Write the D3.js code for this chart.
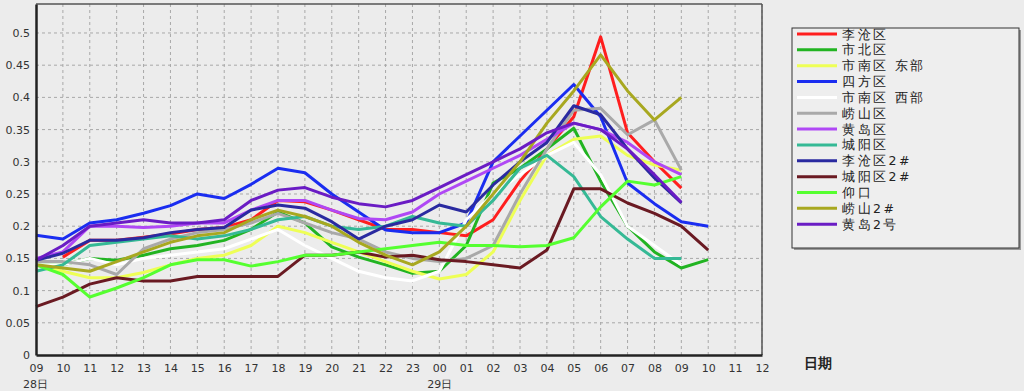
<!DOCTYPE html>
<html>
<head>
<meta charset="utf-8">
<script src="https://cdn.jsdelivr.net/npm/d3@7"></script>
<style>
  body { margin: 0; background: #ececec; }
  text { font-family: "DejaVu Sans", Arial, sans-serif; }
</style>
</head>
<body>
<div id="chart"></div>
<script>
// hour labels along the x axis (09 on the 28th to 12 on the 29th)
var hours = ["09","10","11","12","13","14","15","16","17","18","19","20","21","22","23",
             "00","01","02","03","04","05","06","07","08","09","10","11","12"];
var yTicks = [0, 0.05, 0.1, 0.15, 0.2, 0.25, 0.3, 0.35, 0.4, 0.45, 0.5];

var names = ["李沧区","市北区","市南区 东部","四方区","市南区 西部","崂山区","黄岛区",
             "城阳区","李沧区2#","城阳区2#","仰口","崂山2#","黄岛2号"];
var colors = ["#ff1e1e","#22b422","#eeff55","#1a2df0","#ffffff","#a9a9a9","#b048f5",
              "#35b995","#2a2aa0","#6a1a22","#55ff30","#a8a820","#6a1cc4"];

var licang    = [null,0.152,0.178,0.178,0.183,0.188,0.195,0.198,0.21,0.24,0.238,0.225,0.21,0.195,0.195,0.19,0.185,0.21,0.27,0.32,0.37,0.494,0.345,0.30,0.259];
var shibei    = [0.14,0.14,0.15,0.147,0.155,0.165,0.17,0.178,0.195,0.222,0.205,0.168,0.152,0.14,0.127,0.13,0.17,0.267,0.29,0.32,0.352,0.27,0.2,0.16,0.135,0.148];
var shinanE   = [0.14,0.13,0.12,0.12,0.128,0.14,0.15,0.155,0.17,0.2,0.19,0.175,0.16,0.145,0.13,0.118,0.125,0.16,0.24,0.31,0.335,0.34,0.31,0.295,0.287];
var sifang    = [0.186,0.18,0.205,0.21,0.22,0.232,0.25,0.243,0.265,0.29,0.283,0.25,0.222,0.194,0.19,0.19,0.205,0.30,0.34,0.38,0.42,0.37,0.267,0.235,0.207,0.2];
var shinanW   = [0.14,0.14,0.15,0.14,0.15,0.155,0.16,0.165,0.18,0.195,0.17,0.15,0.13,0.12,0.115,0.13,0.21,0.25,0.28,0.31,0.33,0.28,0.2,0.17,0.14];
var laoshan   = [0.145,0.145,0.14,0.125,0.165,0.18,0.19,0.195,0.205,0.22,0.205,0.19,0.18,0.16,0.15,0.145,0.15,0.17,0.25,0.32,0.38,0.383,0.342,0.365,0.287];
var huangdao  = [0.15,0.16,0.2,0.2,0.198,0.2,0.205,0.205,0.225,0.24,0.24,0.225,0.212,0.21,0.222,0.25,0.27,0.29,0.31,0.335,0.36,0.35,0.33,0.3,0.28];
var chengyang = [0.13,0.14,0.17,0.175,0.18,0.185,0.18,0.185,0.195,0.21,0.215,0.2,0.195,0.2,0.215,0.205,0.2,0.24,0.29,0.31,0.277,0.215,0.18,0.15,0.15];
var licang2   = [0.147,0.158,0.178,0.178,0.182,0.19,0.195,0.198,0.225,0.233,0.228,0.207,0.18,0.2,0.21,0.233,0.222,0.264,0.3,0.33,0.387,0.373,0.32,0.275,0.236];
var chengyang2= [0.075,0.09,0.11,0.12,0.115,0.115,0.122,0.122,0.122,0.122,0.155,0.155,0.16,0.152,0.155,0.148,0.145,0.14,0.135,0.163,0.258,0.258,0.236,0.22,0.2,0.163];
var yangkou   = [0.14,0.125,0.09,0.104,0.12,0.14,0.148,0.148,0.138,0.145,0.155,0.155,0.16,0.165,0.17,0.175,0.17,0.17,0.168,0.17,0.182,0.23,0.27,0.264,0.277];
var laoshan2  = [0.14,0.135,0.13,0.145,0.16,0.175,0.185,0.19,0.21,0.225,0.215,0.2,0.175,0.155,0.14,0.16,0.2,0.25,0.3,0.36,0.41,0.466,0.41,0.365,0.4];
var huangdao2 = [0.147,0.17,0.2,0.205,0.21,0.205,0.205,0.21,0.24,0.256,0.26,0.245,0.235,0.23,0.24,0.26,0.28,0.3,0.32,0.345,0.36,0.35,0.32,0.28,0.237];

var seriesValues = [licang, shibei, shinanE, sifang, shinanW, laoshan, huangdao,
                    chengyang, licang2, chengyang2, yangkou, laoshan2, huangdao2];

var width = 1024, height = 391;
var plot = {left: 36, right: 762, top: 4, bottom: 355};

var svg = d3.select("#chart").append("svg")
    .attr("width", width)
    .attr("height", height);

svg.append("rect")
    .attr("width", width)
    .attr("height", height)
    .attr("fill", "#ececec");

var x = d3.scaleLinear()
    .domain([0, hours.length - 1])
    .range([plot.left, plot.right]);

var y = d3.scaleLinear()
    .domain([0, 0.545])
    .range([plot.bottom, plot.top]);

// dashed grid
svg.append("g").selectAll("line")
    .data(d3.range(1, hours.length))
    .enter().append("line")
    .attr("x1", function(d) { return x(d); })
    .attr("x2", function(d) { return x(d); })
    .attr("y1", plot.top)
    .attr("y2", plot.bottom)
    .attr("stroke", "#a8a8a8")
    .attr("stroke-width", 1)
    .attr("stroke-dasharray", "3,3");

svg.append("g").selectAll("line")
    .data(yTicks.slice(1))
    .enter().append("line")
    .attr("x1", plot.left)
    .attr("x2", plot.right)
    .attr("y1", function(d) { return y(d); })
    .attr("y2", function(d) { return y(d); })
    .attr("stroke", "#a8a8a8")
    .attr("stroke-width", 1)
    .attr("stroke-dasharray", "3,3");

// frame
svg.append("line")
    .attr("x1", plot.left).attr("x2", plot.right)
    .attr("y1", plot.top).attr("y2", plot.top)
    .attr("stroke", "#555").attr("stroke-width", 1.5);
svg.append("line")
    .attr("x1", plot.right).attr("x2", plot.right)
    .attr("y1", plot.top).attr("y2", plot.bottom)
    .attr("stroke", "#555").attr("stroke-width", 1.5);

// lines
var line = d3.line()
    .defined(function(d) { return d != null; })
    .x(function(d, i) { return x(i); })
    .y(function(d) { return y(d); });

svg.append("g").selectAll("path")
    .data(seriesValues)
    .enter().append("path")
    .attr("d", line)
    .attr("fill", "none")
    .attr("stroke", function(d, i) { return colors[i]; })
    .attr("stroke-width", 3)
    .attr("stroke-linejoin", "round");

// axes
var yAxis = svg.append("g")
    .attr("transform", "translate(" + plot.left + ",0)")
    .call(d3.axisLeft(y).tickValues(yTicks).tickSize(0).tickPadding(6)
        .tickFormat(function(d) { return d === 0 ? "0" : String(+d.toFixed(2)); }));
yAxis.select(".domain").attr("stroke", "#222").attr("stroke-width", 2.5);
yAxis.selectAll("text").attr("font-size", 11).attr("fill", "#333")
    .attr("font-family", "Liberation Sans, Arial, sans-serif");

var xAxis = svg.append("g")
    .attr("transform", "translate(0," + plot.bottom + ")")
    .call(d3.axisBottom(x).tickValues(d3.range(hours.length)).tickSize(0).tickPadding(9)
        .tickFormat(function(d) { return hours[d]; }));
xAxis.select(".domain").attr("stroke", "#222").attr("stroke-width", 2.5);
xAxis.selectAll("text").attr("font-size", 11).attr("fill", "#333")
    .attr("font-family", "Liberation Sans, Arial, sans-serif");

// day labels under the hour ticks
svg.append("text")
    .attr("x", x(0) - 13).attr("y", 388)
    .attr("font-size", 11).attr("fill", "#333")
    .text("28日");
svg.append("text")
    .attr("x", x(15) - 12).attr("y", 388)
    .attr("font-size", 11).attr("fill", "#333")
    .text("29日");

svg.append("text")
    .attr("x", 804).attr("y", 368)
    .attr("font-size", 14).attr("font-weight", "bold").attr("fill", "#222")
    .attr("font-family", "Noto Sans CJK SC, sans-serif")
    .text("日期");

// legend
var legend = svg.append("g");
legend.append("rect")
    .attr("x", 794).attr("y", 30)
    .attr("width", 227).attr("height", 220)
    .attr("fill", "#999");
legend.append("rect")
    .attr("x", 792).attr("y", 28)
    .attr("width", 227).attr("height", 220)
    .attr("fill", "#eeeeee")
    .attr("stroke", "#333").attr("stroke-width", 1);

var items = legend.selectAll(".item")
    .data(names)
    .enter().append("g")
    .attr("class", "item")
    .attr("transform", function(d, i) { return "translate(0," + (34 + i * 15.85) + ")"; });

items.append("line")
    .attr("x1", 797).attr("x2", 837)
    .attr("stroke", function(d, i) { return colors[i]; })
    .attr("stroke-width", 3);

items.append("text")
    .attr("x", 842).attr("y", 4.5)
    .attr("font-size", 12.5)
    .attr("letter-spacing", 2.5)
    .attr("fill", "#222")
    .attr("font-family", "Noto Sans CJK SC, sans-serif")
    .text(function(d) { return d; });
</script>
</body>
</html>
